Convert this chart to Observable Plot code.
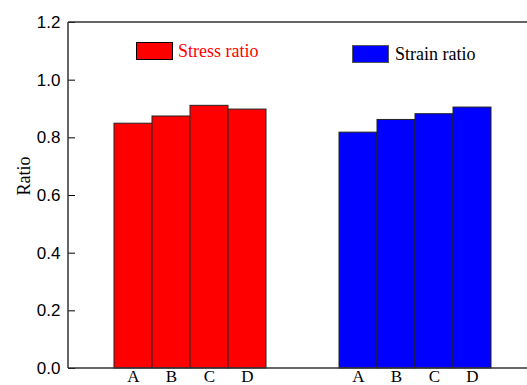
<!DOCTYPE html>
<html><head><meta charset="utf-8">
<script src="https://cdn.jsdelivr.net/npm/d3@7"></script>
<script src="https://cdn.jsdelivr.net/npm/@observablehq/plot@0.6"></script>
<style>
body{margin:0;background:#fff}
#wrap{position:relative;width:527px;height:385px;overflow:hidden}
.sw{position:absolute;box-sizing:border-box;width:37px;height:18px}
.lt{position:absolute;font-family:"Liberation Serif",serif;font-size:18px;line-height:18px;white-space:nowrap}
</style>
</head><body><div id="wrap"></div>
<script>
const groups = ["Stress ratio", "Strain ratio"];
const categories = ["A", "B", "C", "D"];
const stressValues = [0.849, 0.874, 0.911, 0.898];
const strainValues = [0.818, 0.862, 0.882, 0.905];
const yTicks = [0, 0.2, 0.4, 0.6, 0.8, 1.0, 1.2];
const yDomain = [0, 1.2];
const colors = ["#ff0000", "#0000ff"];

const data = [
  ...categories.map((c, i) => ({group: groups[0], cat: c, value: stressValues[i]})),
  ...categories.map((c, i) => ({group: groups[1], cat: c, value: strainValues[i]}))
];

const W = 527, H = 385, mL = 68, mR = 0, mT = 22, mB = 17;
const leftGap = 45;   // space between y axis and first bar group

const plot = Plot.plot({
  width: W, height: H,
  marginLeft: mL, marginRight: mR, marginTop: mT, marginBottom: mB,
  style: {background: "#fff", overflow: "visible"},
  fx: {domain: groups, paddingInner: 0.3156, paddingOuter: 0.1778, align: 0.5625, axis: null, label: null},
  x: {domain: categories, padding: 0, axis: null},
  y: {domain: yDomain, axis: null},
  color: {domain: groups, range: colors},
  marks: [
    Plot.barY(data, {fx: "group", x: "cat", y: "value", fill: "group", stroke: "#222", strokeWidth: 1}),
    Plot.axisX({tickSize: 0, tickPadding: 1, fontSize: 17, fontFamily: "Liberation Serif", label: null, color: "#000"}),
    Plot.axisY({dx: -leftGap, ticks: yTicks, tickFormat: d3.format(".1f"), tickSize: -7, tickPadding: 15, fontSize: 17, fontFamily: "Liberation Sans", label: null, color: "#000"}),
    Plot.text(["Ratio"], {facetAnchor: "left", frameAnchor: "left", rotate: -90, dx: -leftGap - 44, fontSize: 18, fontFamily: "Liberation Serif", fill: "#000"})
  ]
});

// frame lines (top, bottom, left) positioned through Plot's y scale
const ys = plot.scale("y");
const svg = d3.select(plot);
const g = svg.append("g").attr("stroke", "#333").attr("stroke-width", 1.5).attr("fill", "none");
for (const v of yDomain) {
  const yy = ys.apply(v);
  g.append("line").attr("x1", mL).attr("x2", W - mR).attr("y1", yy).attr("y2", yy);
}
g.append("line").attr("x1", mL).attr("x2", mL).attr("y1", ys.apply(yDomain[0])).attr("y2", ys.apply(yDomain[1]));

const wrap = document.getElementById("wrap");
wrap.appendChild(plot);

// legend
const legend = [
  {label: groups[0], fill: colors[0], border: "#000", text: colors[0], x: 136, y: 42, tx: 178},
  {label: groups[1], fill: colors[1], border: "#555", text: "#000", x: 352, y: 45, tx: 395}
];
for (const l of legend) {
  const s = document.createElement("div");
  s.className = "sw";
  s.style.left = l.x + "px"; s.style.top = l.y + "px";
  s.style.background = l.fill; s.style.border = "1px solid " + l.border;
  wrap.appendChild(s);
  const t = document.createElement("div");
  t.className = "lt";
  t.style.left = l.tx + "px"; t.style.top = l.y + "px";
  t.style.color = l.text;
  t.textContent = l.label;
  wrap.appendChild(t);
}
</script>
</body></html>
